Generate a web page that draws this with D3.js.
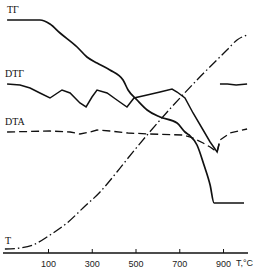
<!DOCTYPE html>
<html lang="en">
<head>
<meta charset="utf-8">
<script src="https://d3js.org/d3.v7.min.js"></script>
<style>
  body { margin: 0px; background: #fff; }
  .tick text { font-family: "Liberation Sans", Arial, sans-serif; font-size: 9px; fill: #222; }
  .curve-label { font-family: "Liberation Serif", "Times New Roman", serif; font-size: 10px; fill: #111; }
</style>
</head>
<body>
<svg width="255" height="271"></svg>
<script>
  // x: temperature scale of the record, y: pen deflection (arbitrary units)
  const tickValues = [100, 300, 500, 700, 900];

  const tgT   = [-87, 63, 109, 155, 233, 278, 324, 383, 443, 466, 507, 553, 612, 690, 726, 745, 781, 813, 841, 859, 996];
  const tgVal = [233, 233, 229, 220, 206, 196, 190, 183, 173, 163, 153, 143, 136, 130, 121, 118, 108, 88, 68, 50, 50];

  const dtgT   = [-87, -28, 18, 63, 109, 164, 201, 246, 274, 301, 324, 370, 415, 461, 493, 553, 612, 667, 690, 726, 763, 809, 841, 873, 882];
  const dtgVal = [169, 168, 165, 160, 155, 163, 160, 150, 146, 156, 163, 160, 153, 146, 155, 158, 161, 164, 161, 155, 140, 123, 111, 101, 109];
  const dtg2T   = [886, 920, 960, 1010];
  const dtg2Val = [169, 169, 168, 169];

  const dtaT   = [-87, 109, 201, 246, 292, 324, 383, 466, 566, 717, 763, 809, 841, 873, 886, 932, 1010];
  const dtaVal = [121, 122, 121, 119, 121, 123, 122, 120, 119, 118, 115, 110, 106, 101, 113, 120, 124];

  const tT   = [-97, -28, 31, 109, 187, 260, 338, 415, 466, 553, 781, 918, 964, 1010];
  const tVal = [4, 5, 8, 18, 30, 45, 61, 81, 95, 118, 173, 203, 213, 218];

  const svg = d3.select('svg');

  const x = d3.scaleLinear().domain([-100, 1000]).range([4.25, 244.9]);
  const y = d3.scaleLinear().domain([0, 250]).range([253, 3]);

  const zip = (a, b) => a.map((v, i) => [v, b[i]]);
  const line = d3.line().x(d => x(d[0])).y(d => y(d[1]));
  const smooth = d3.line().x(d => x(d[0])).y(d => y(d[1])).curve(d3.curveMonotoneX);

  // axis
  const axisG = svg.append('g').attr('transform', 'translate(0,253)');
  axisG.call(d3.axisBottom(x).tickValues(tickValues).tickSize(0).tickPadding(8));
  axisG.select('.domain').remove();
  axisG.append('line')
    .attr('x1', 3).attr('x2', 248).attr('y1', 0).attr('y2', 0)
    .attr('stroke', '#111').attr('stroke-width', 1.4);
  axisG.selectAll('.tick').append('line')
    .attr('y1', 0).attr('y2', -4).attr('stroke', '#111').attr('stroke-width', 1);
  axisG.selectAll('.tick text').attr('dy', '0.71em');
  svg.append('text')
    .attr('x', 236).attr('y', 266)
    .style('font-family', '"Liberation Sans", Arial, sans-serif')
    .style('font-size', '9px').attr('fill', '#222')
    .text('T,°C');

  // curves
  svg.append('path').datum(zip(tgT, tgVal))
    .attr('d', smooth).attr('fill', 'none').attr('stroke', '#111').attr('stroke-width', 1.7);
  svg.append('path').datum(zip(dtgT, dtgVal))
    .attr('d', line).attr('fill', 'none').attr('stroke', '#111').attr('stroke-width', 1.5);
  svg.append('path').datum(zip(dtg2T, dtg2Val))
    .attr('d', line).attr('fill', 'none').attr('stroke', '#111').attr('stroke-width', 1.5);
  svg.append('path').datum(zip(dtaT, dtaVal))
    .attr('d', line).attr('fill', 'none').attr('stroke', '#111').attr('stroke-width', 1.3)
    .attr('stroke-dasharray', '8,4');
  svg.append('path').datum(zip(tT, tVal))
    .attr('d', smooth).attr('fill', 'none').attr('stroke', '#111').attr('stroke-width', 1.3)
    .attr('stroke-dasharray', '10,3,1.5,3');

  // labels
  const labels = [['TΓ', 7, 13], ['DTΓ', 5, 77], ['DTA', 5, 125], ['T', 5, 244]];
  svg.selectAll('.curve-label').data(labels).enter().append('text')
    .attr('class', 'curve-label')
    .attr('x', d => d[1]).attr('y', d => d[2])
    .text(d => d[0]);
</script>
</body>
</html>
